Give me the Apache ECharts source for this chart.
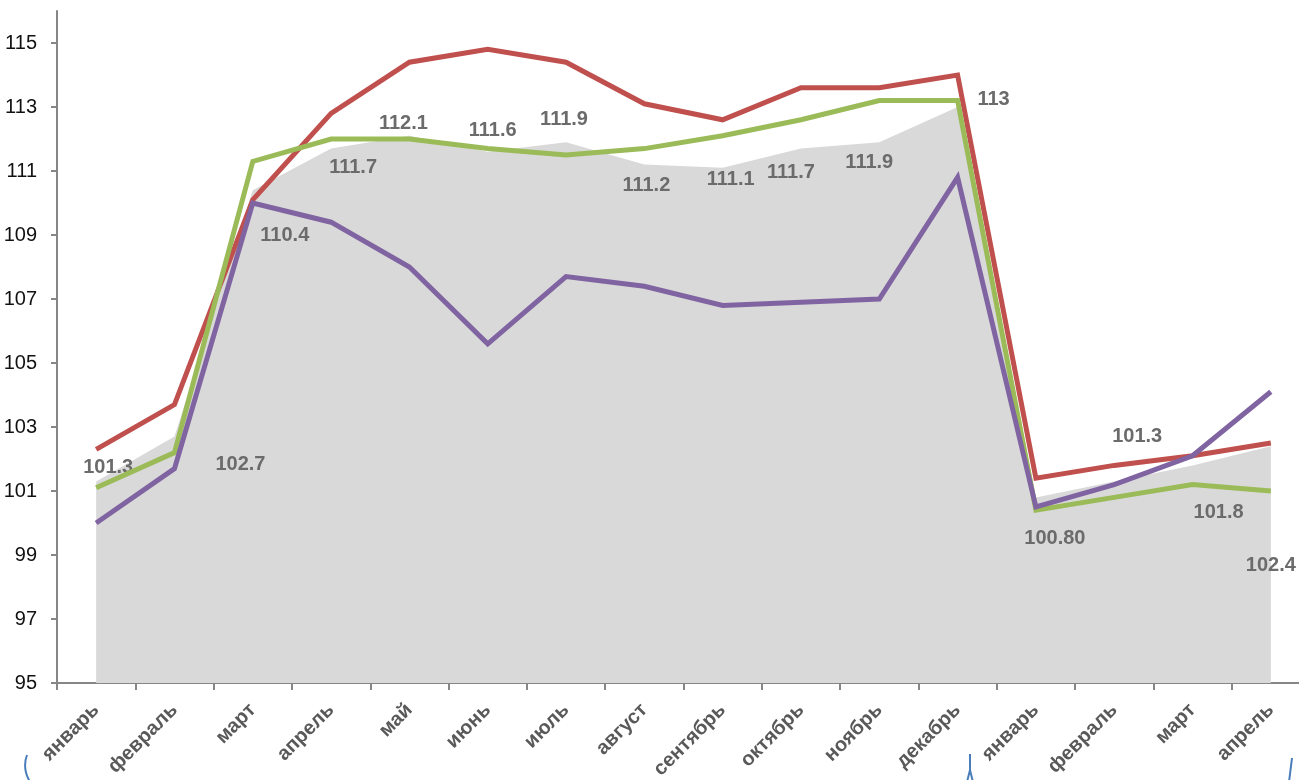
<!DOCTYPE html>
<html>
<head>
<meta charset="utf-8">
<script src="https://cdn.jsdelivr.net/npm/echarts@6/dist/echarts.min.js"></script>
<style>
  html, body { margin: 0; padding: 0; background: #fff; }
  #chart { width: 1299px; height: 780px; }
</style>
</head>
<body>
<div id="chart"></div>
<script>
const months = ['январь', 'февраль', 'март', 'апрель', 'май', 'июнь', 'июль', 'август',
  'сентябрь', 'октябрь', 'ноябрь', 'декабрь', 'январь', 'февраль', 'март', 'апрель']

// grey area with the labelled values
const areaValues = [101.3, 102.7, 110.4, 111.7, 112.1, 111.6, 111.9, 111.2, 111.1, 111.7, 111.9, 113,
  100.8, 101.3, 101.8, 102.4]
const areaLabels = ['101.3', '102.7', '110.4', '111.7', '112.1', '111.6', '111.9', '111.2', '111.1',
  '111.7', '111.9', '113', '100.80', '101.3', '101.8', '102.4']

const redValues = [102.3, 103.7, 110.1, 112.8, 114.4, 114.8, 114.4, 113.1, 112.6, 113.6, 113.6, 114.0,
  101.4, 101.8, 102.1, 102.5]
const greenValues = [101.1, 102.2, 111.3, 112.0, 112.0, 111.7, 111.5, 111.7, 112.1, 112.6, 113.2, 113.2,
  100.4, 100.8, 101.2, 101.0]
const purpleValues = [100.0, 101.7, 110.0, 109.4, 108.0, 105.6, 107.7, 107.4, 106.8, 106.9, 107.0, 110.8,
  100.5, 101.2, 102.1, 104.1]

const yTicks = [95, 97, 99, 101, 103, 105, 107, 109, 111, 113, 115]

// label placement (pixels, relative to the point), hand placed like in the source
const labelOffsets = [[12, -14], [66, 28], [32, 45], [22, 19], [-6, -12], [5, -21], [-2, -23], [2, 21],
  [8, 12], [-10, 24], [-10, 20], [36, -8], [19, 41], [23, -45], [26, 47], [0, 119]]

const chart = echarts.init(document.getElementById('chart'))

const areaData = areaValues.map((v, i) => ({
  value: v,
  label: { offset: labelOffsets[i] }
}))

function lineSeries(name, data, color) {
  return {
    name: name,
    type: 'line',
    data: data,
    symbol: 'none',
    lineStyle: { color: color, width: 5, join: 'miter', cap: 'butt' },
    itemStyle: { color: color },
    z: 3
  }
}

const option = {
  animation: false,
  backgroundColor: '#fff',
  grid: {
    left: 57,
    top: 11,
    width: 1253,
    bottom: 97,
    outerBoundsMode: 'none',
    containLabel: false
  },
  xAxis: {
    type: 'category',
    data: months,
    boundaryGap: true,
    axisLine: { lineStyle: { color: '#868686', width: 2 } },
    axisTick: { show: true, length: 7, lineStyle: { color: '#868686', width: 2 } },
    axisLabel: {
      rotate: 45,
      interval: 0,
      margin: 24,
      color: '#595959',
      fontWeight: 'bold',
      fontSize: 20,
      fontFamily: 'Liberation Sans, Arial, sans-serif'
    }
  },
  yAxis: {
    type: 'value',
    min: 95,
    max: 116,
    axisLine: { show: true, lineStyle: { color: '#868686', width: 2 } },
    axisTick: { show: true, length: 6, customValues: yTicks, lineStyle: { color: '#868686', width: 2 } },
    axisLabel: {
      customValues: yTicks,
      margin: 20,
      color: '#111',
      fontSize: 20,
      fontFamily: 'Liberation Sans, Arial, sans-serif'
    },
    splitLine: { show: false }
  },
  series: [
    {
      name: 'area',
      type: 'line',
      data: areaData,
      symbol: 'circle',
      symbolSize: 0,
      showSymbol: true,
      lineStyle: { width: 0 },
      itemStyle: { color: '#d9d9d9' },
      areaStyle: { color: '#d9d9d9', opacity: 1, origin: 'start' },
      label: {
        show: true,
        position: 'inside',
        formatter: p => areaLabels[p.dataIndex],
        color: '#6b6b6b',
        fontWeight: 'bold',
        fontSize: 20,
        fontFamily: 'Liberation Sans, Arial, sans-serif'
      },
      z: 2
    },
    lineSeries('red', redValues, '#c0504d'),
    lineSeries('green', greenValues, '#9bbb59'),
    lineSeries('purple', purpleValues, '#8064a2')
  ],
  graphic: [
    {
      type: 'bezierCurve',
      shape: { x1: 27, y1: 755, cpx1: 22, cpy1: 768, x2: 30, y2: 782 },
      style: { stroke: '#4a7ebb', lineWidth: 2, fill: null }
    },
    {
      type: 'polyline',
      shape: { points: [[970, 754], [970, 770], [967, 782]] },
      style: { stroke: '#4a7ebb', lineWidth: 2, fill: null }
    },
    {
      type: 'line',
      shape: { x1: 970, y1: 770, x2: 973, y2: 782 },
      style: { stroke: '#4a7ebb', lineWidth: 2 }
    },
    {
      type: 'line',
      shape: { x1: 1292, y1: 758, x2: 1289, y2: 782 },
      style: { stroke: '#4a7ebb', lineWidth: 2 }
    }
  ]
}

chart.setOption(option)
</script>
</body>
</html>
